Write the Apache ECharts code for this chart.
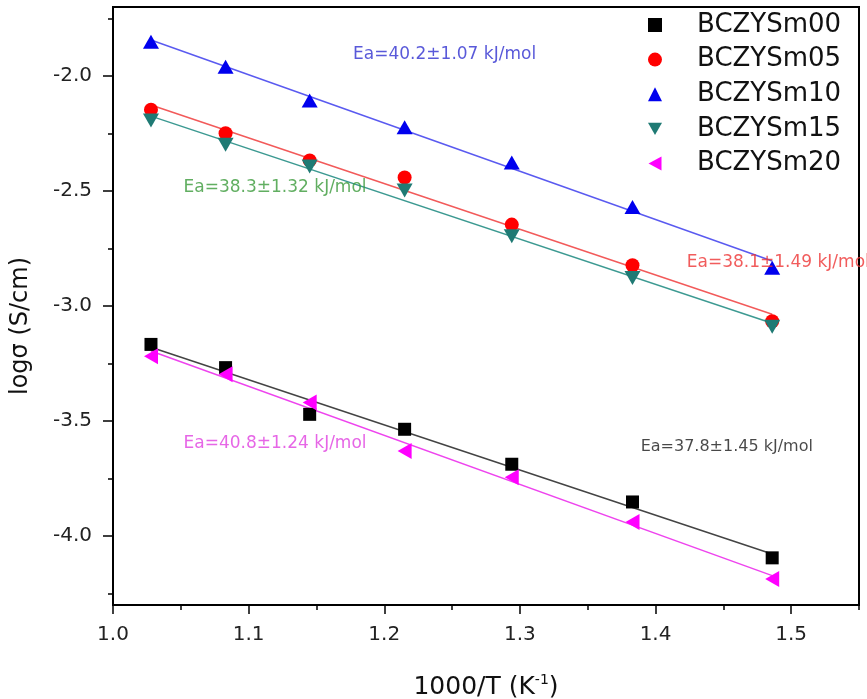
<!DOCTYPE html>
<html><head><meta charset="utf-8">
<script src="https://cdn.jsdelivr.net/npm/echarts@6/dist/echarts.min.js"></script>
<style>html,body{margin:0;padding:0;background:#fff}#c{width:867px;height:699px}</style>
</head><body><div id="c"></div>
<script>
const FONT = 'DejaVu Sans';
const seriesNames = ['BCZYSm00', 'BCZYSm05', 'BCZYSm10', 'BCZYSm15', 'BCZYSm20'];
const invT = [1.028, 1.083, 1.145, 1.215, 1.294, 1.383, 1.486];
const sm00 = [-3.167, -3.268, -3.471, -3.536, -3.688, -3.852, -4.095];
const sm05 = [-2.147, -2.249, -2.367, -2.441, -2.646, -2.823, -3.066];
const sm10 = [-1.851, -1.960, -2.107, -2.223, -2.376, -2.570, -2.834];
const sm15 = [-2.194, -2.299, -2.393, -2.498, -2.697, -2.878, -3.090];
const sm20 = [-3.218, -3.297, -3.420, -3.630, -3.745, -3.939, -4.187];
const xMajorTicks = [1.0, 1.1, 1.2, 1.3, 1.4, 1.5];
const xMinorTicks = [1.05, 1.15, 1.25, 1.35, 1.45, 1.55];
const yMajorTicks = [-4.0, -3.5, -3.0, -2.5, -2.0];
const yMinorTicks = [-4.25, -3.75, -3.25, -2.75, -2.25, -1.75];
const eaTexts = ['Ea=37.8±1.45 kJ/mol', 'Ea=38.1±1.49 kJ/mol', 'Ea=40.2±1.07 kJ/mol', 'Ea=38.3±1.32 kJ/mol', 'Ea=40.8±1.24 kJ/mol'];
const eaX = [1.389, 1.423, 1.177, 1.052, 1.052];
const eaY = [-3.614, -2.811, -1.909, -2.486, -3.597];

const allData = [sm00, sm05, sm10, sm15, sm20];
const markerColors = ['#000000', '#ff0000', '#0000ee', '#1f7a74', '#ff00ff'];
const lineColors = ['#444444', '#f25a5a', '#5a5af0', '#3d9a92', '#ee44ee'];
const textColors = ['#1a1a1a', '#ee3333', '#3030d0', '#3a9a3a', '#e040e0'];
const textSizes = [16, 17, 17, 17, 17];
const symbols = ['rect', 'circle', 'triangle', 'triangle', 'triangle'];
const symSizes = [13, 14, [16, 14], [16, 14], [16, 14]];
const symRot = [0, 0, 0, 180, 90];
const legendIcons = ['rect', 'circle', 'triangle', 'path://M0,0L16,0L8,14Z', 'path://M0,7L13,0L13,14Z'];

function fit(xs, ys) {
  const n = xs.length;
  let sx = 0, sy = 0, sxx = 0, sxy = 0;
  for (let i = 0; i < n; i++) { sx += xs[i]; sy += ys[i]; sxx += xs[i] * xs[i]; sxy += xs[i] * ys[i]; }
  const b = (n * sxy - sx * sy) / (n * sxx - sx * sx);
  const a = (sy - b * sx) / n;
  return [a, b];
}

const series = [];
allData.forEach((ys, i) => {
  const [a, b] = fit(invT, ys);
  const x0 = invT[0], x1 = invT[invT.length - 1];
  series.push({
    type: 'line', name: seriesNames[i] + ' fit', silent: true, showSymbol: false, symbol: 'none',
    data: [[x0, a + b * x0], [x1, a + b * x1]],
    lineStyle: { color: lineColors[i], width: 1.5 }, z: 2
  });
});
allData.forEach((ys, i) => {
  series.push({
    type: 'scatter', name: seriesNames[i], symbol: symbols[i], symbolSize: symSizes[i], symbolRotate: symRot[i],
    data: invT.map((x, k) => [x, ys[k]]),
    itemStyle: { color: markerColors[i], opacity: 1 }, z: 3
  });
});
series.push({
  type: 'scatter', name: 'annotations', silent: true, symbolSize: 0,
  data: eaTexts.map((t, i) => ({
    value: [eaX[i], eaY[i]],
    label: { show: true, position: 'right', distance: 0, formatter: t, color: textColors[i], fontSize: textSizes[i], fontFamily: FONT }
  })),
  z: 4
});

const chart = echarts.init(document.getElementById('c'), null, { renderer: 'canvas' });
chart.setOption({
  backgroundColor: '#fff',
  animation: false,
  grid: { left: 113, right: 8, top: 7, bottom: 94, show: true, borderColor: '#000', borderWidth: 2, backgroundColor: '#fff', containLabel: false, outerBoundsMode: 'none' },
  legend: {
    data: seriesNames.map((n, i) => ({ name: n, icon: legendIcons[i] })),
    orient: 'vertical', left: 648, top: 12, padding: 0, itemWidth: 14, itemHeight: 14, itemGap: 8.6,
    selectedMode: false,
    textStyle: { fontFamily: FONT, fontSize: 26, color: '#111', lineHeight: 24, padding: [0, 0, 0, 30] }
  },
  xAxis: [{
    type: 'value', min: 1.0, max: 1.55, position: 'bottom',
    name: '1000/T (K{sup|-1})', nameLocation: 'middle', nameGap: 68,
    nameTextStyle: { fontFamily: FONT, fontSize: 25, color: '#111', lineHeight: 28,
      rich: { sup: { fontSize: 14, fontFamily: FONT, color: '#111', verticalAlign: 'top', lineHeight: 28 } } },
    axisLine: { show: true, lineStyle: { color: '#000', width: 2 } },
    axisTick: { show: true, customValues: xMajorTicks, length: 9, lineStyle: { color: '#000', width: 1.5 } },
    axisLabel: { customValues: xMajorTicks, margin: 20, fontFamily: FONT, fontSize: 20, color: '#222', formatter: v => v.toFixed(1) },
    splitLine: { show: false }
  }, {
    type: 'value', min: 1.0, max: 1.55, position: 'bottom',
    axisLine: { show: false },
    axisTick: { show: true, customValues: xMinorTicks, length: 5, lineStyle: { color: '#000', width: 1.5 } },
    axisLabel: { show: false }, splitLine: { show: false }
  }],
  yAxis: [{
    type: 'value', min: -4.3, max: -1.7, position: 'left',
    name: 'logσ (S/cm)', nameLocation: 'middle', nameGap: 80,
    nameTextStyle: { fontFamily: FONT, fontSize: 24, color: '#111', padding: [0, 40, 0, 0] },
    axisLine: { show: true, lineStyle: { color: '#000', width: 2 } },
    axisTick: { show: true, customValues: yMajorTicks, length: 10, lineStyle: { color: '#000', width: 1.5 } },
    axisLabel: { customValues: yMajorTicks, margin: 21, fontFamily: FONT, fontSize: 20, color: '#222', formatter: v => v.toFixed(1) },
    splitLine: { show: false }
  }, {
    type: 'value', min: -4.3, max: -1.7, position: 'left',
    axisLine: { show: false },
    axisTick: { show: true, customValues: yMinorTicks, length: 5, lineStyle: { color: '#000', width: 1.5 } },
    axisLabel: { show: false }, splitLine: { show: false }
  }],
  series: series
});
</script>
</body></html>
